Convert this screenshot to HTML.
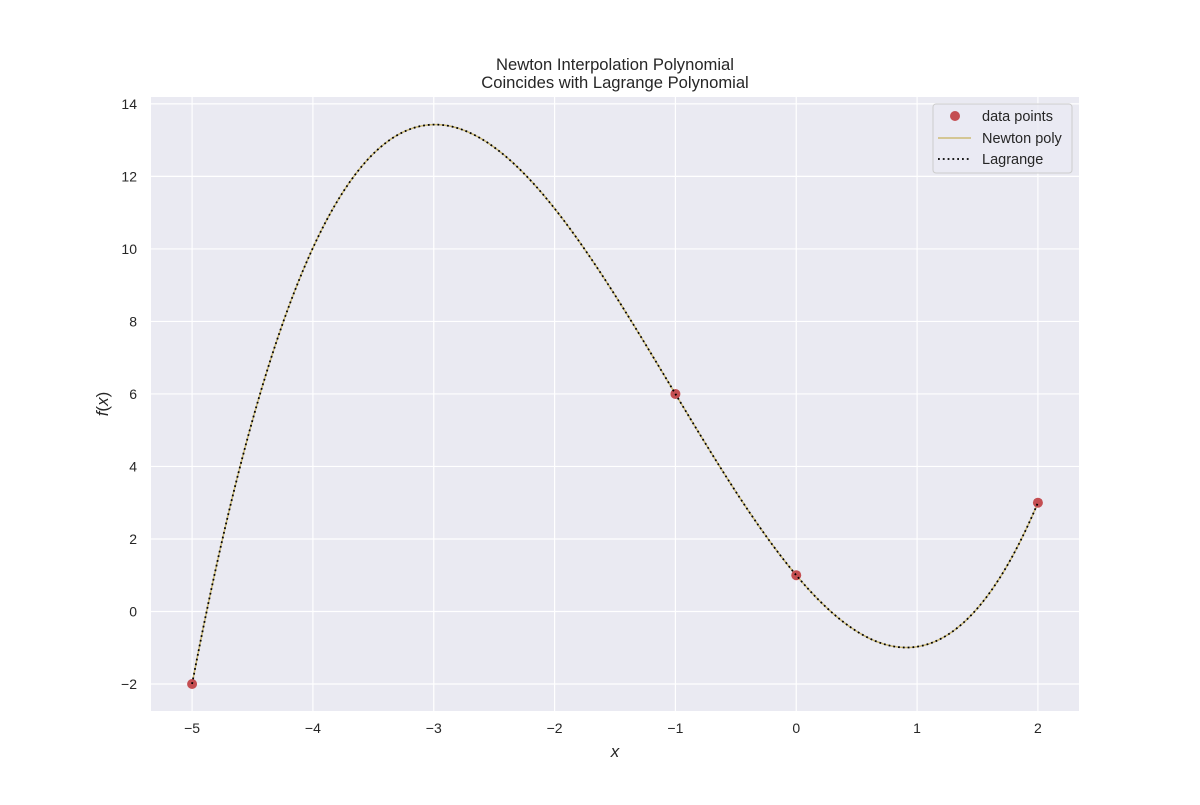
<!DOCTYPE html>
<html><head><meta charset="utf-8"><style>
body{margin:0;background:#fff;}
svg text{font-family:"Liberation Sans",Arial,sans-serif;fill:#262626;}
</style></head><body>
<svg id="chart" width="1200" height="800" xmlns="http://www.w3.org/2000/svg">
<rect x="151" y="97" width="928" height="614" fill="#eaeaf2"/>
<g id="grid"></g>
<g id="ticks"></g>
<g id="series"></g>
<text x="615" y="70" font-size="16.6" text-anchor="middle">Newton Interpolation Polynomial</text>
<text x="615" y="88" font-size="16.6" text-anchor="middle">Coincides with Lagrange Polynomial</text>
<text x="615" y="757" font-size="17" font-style="italic" text-anchor="middle">x</text>
<text x="108" y="404" font-size="17" text-anchor="middle" transform="rotate(-90 108 404)"><tspan font-style="italic">f</tspan>(<tspan font-style="italic">x</tspan>)</text>
<g>
<rect x="933" y="104" width="139" height="69" rx="3" fill="#eaeaf2" stroke="#cccccc" fill-opacity="0.8"/>
<circle cx="955" cy="116" r="5" fill="#c44e52"/>
<text x="982" y="121" font-size="14.5">data points</text>
<line x1="938" y1="138" x2="971" y2="138" stroke="#ccb974" stroke-width="1.5"/>
<text x="982" y="143" font-size="14.5">Newton poly</text>
<line x1="938" y1="159" x2="971" y2="159" stroke="#000" stroke-width="1.8" stroke-dasharray="1.8,3"/>
<text x="982" y="164" font-size="14.5">Lagrange</text>
</g>
</svg>
<script>
const xData = [-5, -1, 0, 2];
const yData = [-2, 6, 1, 3];
const xTicks = [-5, -4, -3, -2, -1, 0, 1, 2];
const yTicks = [-2, 0, 2, 4, 6, 8, 10, 12, 14];
const xDomain = [-5.34, 2.34];
const yDomain = [-2.745, 14.19];
const L = 151, R = 1079, T = 97, B = 711;
const sx = v => L + (v - xDomain[0]) / (xDomain[1] - xDomain[0]) * (R - L);
const sy = v => B - (v - yDomain[0]) / (yDomain[1] - yDomain[0]) * (B - T);
const NS = 'http://www.w3.org/2000/svg';
function mk(tag, attrs, parent) { const e = document.createElementNS(NS, tag); for (const k in attrs) e.setAttribute(k, attrs[k]); parent.appendChild(e); return e; }
const grid = document.getElementById('grid'), ticks = document.getElementById('ticks'), series = document.getElementById('series');
xTicks.forEach(v => {
  const g = mk('line', {x1: sx(v), x2: sx(v), y1: T, y2: B, stroke: '#fff', 'stroke-width': 1.2}, grid);
  
  
  const t = mk('text', {x: sx(v), y: B + 22, 'font-size': 14, 'text-anchor': 'middle'}, ticks);
  t.textContent = v < 0 ? '\u2212' + (-v) : String(v);
  
  
});
yTicks.forEach(v => {
  const g = mk('line', {x1: L, x2: R, y1: sy(v), y2: sy(v), stroke: '#fff', 'stroke-width': 1.2}, grid);
  
  
  const t = mk('text', {x: L - 14, y: sy(v) + 5, 'font-size': 14, 'text-anchor': 'end'}, ticks);
  t.textContent = v < 0 ? '\u2212' + (-v) : String(v);
  
  
});
// Newton divided differences
const n = xData.length, coef = yData.slice();
for (let j = 1; j < n; j++) for (let i = n - 1; i >= j; i--) coef[i] = (coef[i] - coef[i - 1]) / (xData[i] - xData[i - j]);
function poly(x) { let p = coef[n - 1]; for (let i = n - 2; i >= 0; i--) p = p * (x - xData[i]) + coef[i]; return p; }
let d = '';
const x0 = Math.min(...xData), x1 = Math.max(...xData);
for (let k = 0; k <= 400; k++) { const x = x0 + (x1 - x0) * k / 400; d += (k ? 'L' : 'M') + sx(x).toFixed(2) + ',' + sy(poly(x)).toFixed(2); }
const newton = mk('path', {d: d, fill: 'none', stroke: '#ccb974', 'stroke-width': 1.5}, series);


xData.forEach((x, i) => {
  const c = mk('circle', {cx: sx(x), cy: sy(yData[i]), r: 5, fill: '#c44e52'}, series);
  
  
});
const lag = mk('path', {d: d, fill: 'none', stroke: '#000', 'stroke-width': 1.8, 'stroke-dasharray': '1.8,3'}, series);


</script>
</body></html>
